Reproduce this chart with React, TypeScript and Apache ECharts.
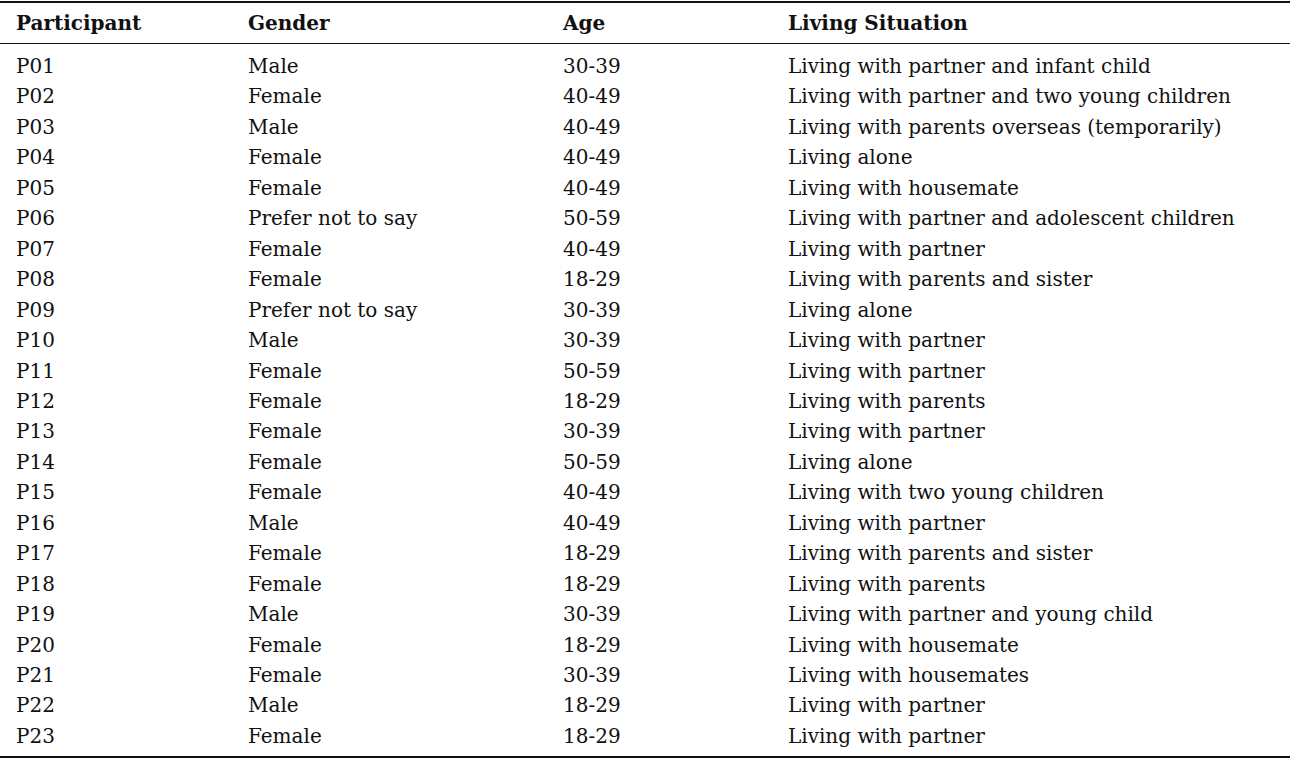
import { useEffect, useRef } from "react";
import * as echarts from "echarts";

const headers = ["Participant", "Gender", "Age", "Living Situation"];
const participants = ["P01","P02","P03","P04","P05","P06","P07","P08","P09","P10","P11","P12","P13","P14","P15","P16","P17","P18","P19","P20","P21","P22","P23"];
const genders = ["Male","Female","Male","Female","Female","Prefer not to say","Female","Female","Prefer not to say","Male","Female","Female","Female","Female","Female","Male","Female","Female","Male","Female","Female","Male","Female"];
const ages = ["30-39","40-49","40-49","40-49","40-49","50-59","40-49","18-29","30-39","30-39","50-59","18-29","30-39","50-59","40-49","40-49","18-29","18-29","30-39","18-29","30-39","18-29","18-29"];
const living = [
  "Living with partner and infant child",
  "Living with partner and two young children",
  "Living with parents overseas (temporarily)",
  "Living alone",
  "Living with housemate",
  "Living with partner and adolescent children",
  "Living with partner",
  "Living with parents and sister",
  "Living alone",
  "Living with partner",
  "Living with partner",
  "Living with parents",
  "Living with partner",
  "Living alone",
  "Living with two young children",
  "Living with partner",
  "Living with parents and sister",
  "Living with parents",
  "Living with partner and young child",
  "Living with housemate",
  "Living with housemates",
  "Living with partner",
  "Living with partner",
];

const colX = [16, 248, 563, 788];
const FONT = "'DejaVu Serif', 'Liberation Serif', serif";

export default function App() {
  const ref = useRef<HTMLDivElement>(null);
  useEffect(() => {
    document.body.style.margin = "0";
    if (!ref.current) return;
    const chart = echarts.init(ref.current, null, { renderer: "svg" });
    const els: any[] = [];
    const txt = (x: number, y: number, s: string, bold = false) => ({
      type: "text",
      x,
      y,
      style: { text: s, fill: "#111", font: `${bold ? "bold " : ""}20px ${FONT}`, textVerticalAlign: "middle" },
    });
    headers.forEach((h, i) => els.push(txt(colX[i], 23, h, true)));
    const cols = [participants, genders, ages, living];
    participants.forEach((_, r) => {
      const y = 66 + r * 30.45;
      cols.forEach((c, i) => els.push(txt(colX[i], y, c[r])));
    });
    const rule = (y: number, w: number) => ({
      type: "line",
      shape: { x1: 0, y1: y, x2: 1290, y2: y },
      style: { stroke: "#111", lineWidth: w },
    });
    els.push(rule(2, 2), rule(43.5, 1), rule(757, 2));
    chart.setOption({ animation: false, graphic: els });
    return () => chart.dispose();
  }, []);
  return <div ref={ref} style={{ width: 1290, height: 760, background: "#fff" }} />;
}
